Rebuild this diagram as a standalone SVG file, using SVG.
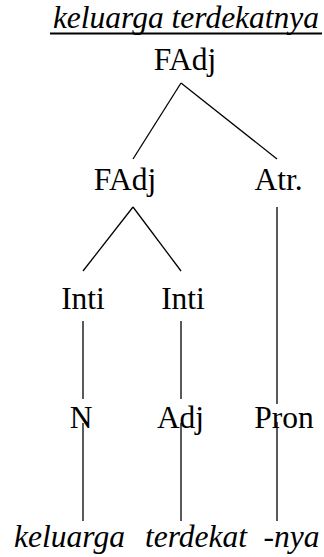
<svg xmlns="http://www.w3.org/2000/svg" width="324" height="557" viewBox="0 0 324 557">
  <style>
    .lbl { font-family: "Liberation Serif", "Times New Roman", serif; font-size: 31.5px; fill: #000; text-anchor: middle; }
    .it { font-style: italic; }
    .edge { stroke: #000; stroke-width: 1.3; fill: none; }
  </style>
  <rect width="324" height="557" fill="#fff"/>

  <!-- phrase being parsed -->
  <g id="title">
    <text class="lbl it" x="186" y="28">keluarga terdekatnya</text>
    <line x1="50" y1="33.5" x2="322" y2="33.5" stroke="#000" stroke-width="1.8"/>
  </g>

  <!-- tree edges -->
  <g id="connectors">
    <line class="edge" x1="181" y1="83" x2="133" y2="159"/>
    <line class="edge" x1="181" y1="83" x2="277" y2="159"/>
    <line class="edge" x1="133" y1="207" x2="83" y2="271"/>
    <line class="edge" x1="133" y1="207" x2="181" y2="271"/>
    <line class="edge" x1="277" y1="207" x2="277" y2="404"/>
    <line class="edge" x1="83" y1="321" x2="83" y2="399"/>
    <line class="edge" x1="181" y1="321" x2="181" y2="399"/>
    <line class="edge" x1="83" y1="423" x2="83" y2="521"/>
    <line class="edge" x1="181" y1="423" x2="181" y2="521"/>
    <line class="edge" x1="277" y1="422" x2="277" y2="521"/>
  </g>

  <g id="root-fadj"><text class="lbl" x="185" y="70">FAdj</text></g>
  <g id="fadj"><text class="lbl" x="125" y="190">FAdj</text></g>
  <g id="atr"><text class="lbl" x="278.5" y="190">Atr.</text></g>
  <g id="inti-1"><text class="lbl" x="83" y="309">Inti</text></g>
  <g id="inti-2"><text class="lbl" x="183" y="309">Inti</text></g>
  <g id="n"><text class="lbl" x="81" y="428">N</text></g>
  <g id="adj"><text class="lbl" x="180.5" y="428">Adj</text></g>
  <g id="pron"><text class="lbl" x="284" y="428">Pron</text></g>
  <g id="word-keluarga"><text class="lbl it" x="69.5" y="547">keluarga</text></g>
  <g id="word-terdekat"><text class="lbl it" x="196" y="547">terdekat</text></g>
  <g id="word-nya"><text class="lbl it" x="291.5" y="547">-nya</text></g>
</svg>
